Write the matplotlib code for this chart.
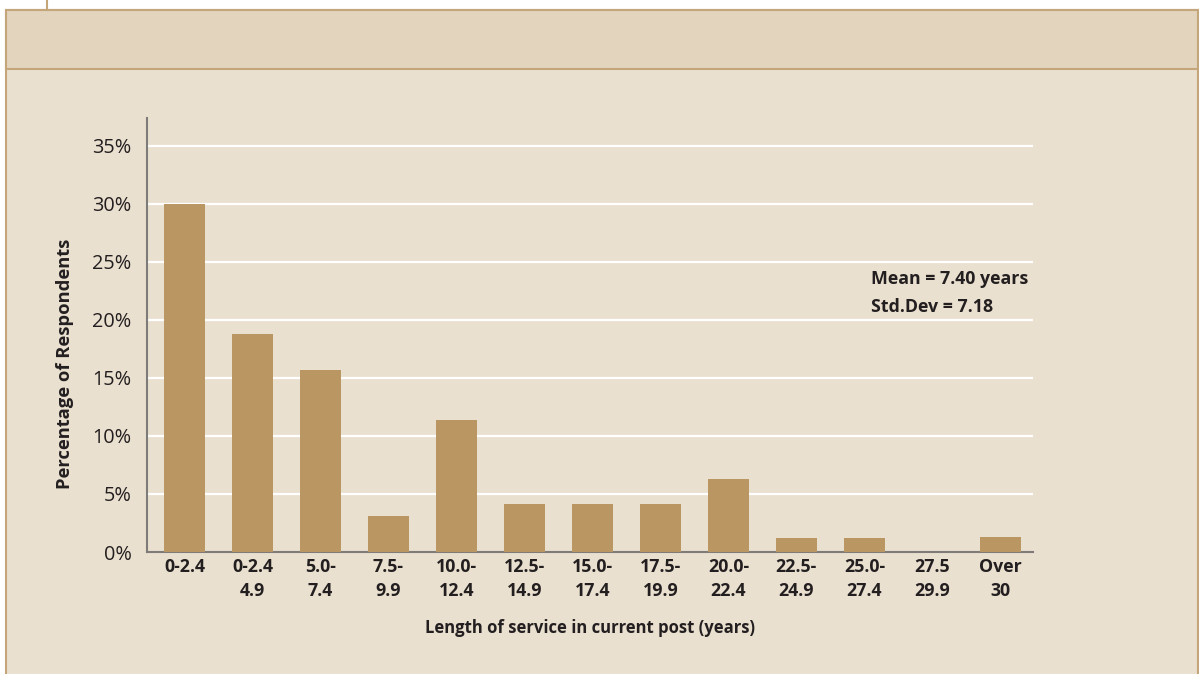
import matplotlib.pyplot as plt
from matplotlib.patches import Rectangle
from matplotlib.lines import Line2D

plt.rcParams['font.family'] = ['Open Sans', 'DejaVu Sans']

# length of service bands and share of respondents (%)
bands = ['0-2.4', '0-2.4\n4.9', '5.0-\n7.4', '7.5-\n9.9', '10.0-\n12.4',
         '12.5-\n14.9', '15.0-\n17.4', '17.5-\n19.9', '20.0-\n22.4',
         '22.5-\n24.9', '25.0-\n27.4', '27.5\n29.9', 'Over\n30']
share = [30.0, 18.8, 15.7, 3.1, 11.4, 4.1, 4.1, 4.1, 6.3, 1.2, 1.2, 0.0, 1.3]
y_ticks = [0, 5, 10, 15, 20, 25, 30, 35]
stats_text = 'Mean = 7.40 years\nStd.Dev = 7.18'

W, H = 1199, 674
panel = '#eae0cf'
band_col = '#e2d4bd'
edge = '#c4a67a'
bar_col = '#b99662'
ink = '#231f20'

fig = plt.figure(figsize=(W / 100, H / 100), dpi=100)
fig.patch.set_facecolor('white')


def px(x0, y0, w, h):
    # pixel box (top-left origin) -> figure fraction
    return (x0 / W, 1 - (y0 + h) / H, w / W, h / H)


# boxed panel with a header strip
x, y, w, h = px(6, 10, 1192, 680)
fig.patches.append(Rectangle((x, y), w, h, transform=fig.transFigure,
                             facecolor=panel, edgecolor=edge, lw=1.5, zorder=-2))
x, y, w, h = px(6, 10, 1192, 59)
fig.patches.append(Rectangle((x, y), w, h, transform=fig.transFigure,
                             facecolor=band_col, edgecolor=edge, lw=1.5, zorder=-1))
fig.add_artist(Line2D([47 / W, 47 / W], [1, 1 - 10 / H], color=edge, lw=1.5))

ax = fig.add_axes(px(147, 118, 886, 434))
ax.set_zorder(2)
ax.set_facecolor('none')
pos = list(range(len(bands)))
ax.bar(pos, share, width=0.6, color=bar_col, zorder=3)

ax.set_xlim(-0.55, 12.48)
ax.set_ylim(0, 37.4)
ax.set_yticks(y_ticks)
ax.set_yticklabels([f'{t}%' for t in y_ticks])
for t in y_ticks[1:]:
    ax.axhline(t, color='white', lw=1.6, zorder=1)

ax.set_xticks(pos)
ax.set_xticklabels(bands, fontweight='bold', fontsize=12.8, color=ink,
                   linespacing=1.45)
ax.tick_params(axis='x', length=0, pad=4)
ax.tick_params(axis='y', length=0, pad=11, labelsize=14.3, labelcolor=ink)

for s in ['top', 'right']:
    ax.spines[s].set_visible(False)
for s in ['left', 'bottom']:
    ax.spines[s].set_color('#7f7b78')
    ax.spines[s].set_linewidth(1.5)

fig.text(65 / W, 1 - 364 / H, 'Percentage of Respondents', rotation=90,
         ha='center', va='center', fontsize=13.2, fontweight='bold', color=ink)
fig.text(590 / W, 1 - 628 / H, 'Length of service in current post (years)',
         ha='center', va='center', fontsize=12, fontweight='bold', color=ink)
fig.text(871 / W, 1 - 293 / H, stats_text, ha='left', va='center',
         fontsize=12.8, fontweight='bold', color=ink, linespacing=1.7)

fig.savefig('out.png', dpi=100, facecolor=fig.get_facecolor())
